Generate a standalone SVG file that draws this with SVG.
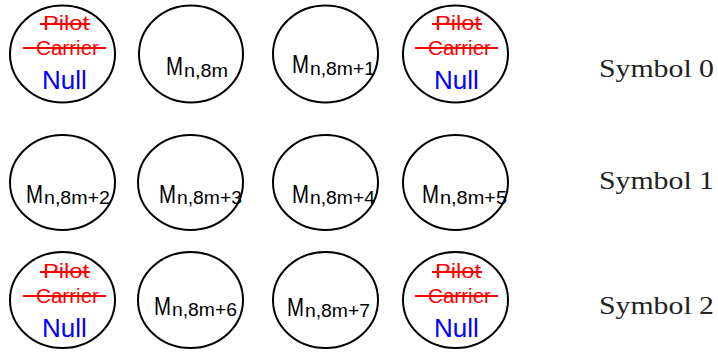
<svg xmlns="http://www.w3.org/2000/svg" width="718" height="352" viewBox="0 0 718 352">
<style>
.c{fill:#fff;stroke:#000;stroke-width:2}
.p{font-family:"Liberation Sans",Arial,sans-serif;fill:#f00;font-size:20px}
.s{stroke:#f00;stroke-width:2}
.n{font-family:"Liberation Sans",Arial,sans-serif;fill:#00f;font-size:26px}
.m{font-family:"Liberation Sans",Arial,sans-serif;fill:#000;font-size:26px}
.b{font-size:18px}
.y{font-family:"Liberation Serif","Times New Roman",serif;fill:#222;font-size:26px}
</style>
<defs>
<g id="null">
<text class="p" x="43" y="30" textLength="46" lengthAdjust="spacingAndGlyphs">Pilot</text>
<line class="s" x1="40" y1="24" x2="90" y2="24"/>
<text class="p" x="36" y="55" textLength="63" lengthAdjust="spacingAndGlyphs">Carrier</text>
<line class="s" x1="23" y1="48" x2="106" y2="48"/>
<text class="n" x="42" y="89">Null</text>
</g>
</defs>
<g id="r0c1"><ellipse class="c" cx="62.5" cy="54" rx="52.5" ry="48.5"/><use href="#null"/></g>
<g id="r0c2"><ellipse class="c" cx="191" cy="54" rx="52" ry="48.5"/><text class="m" x="166" y="75"><tspan textLength="17" lengthAdjust="spacingAndGlyphs">M</tspan><tspan class="b" dx="1" dy="2" textLength="44" lengthAdjust="spacingAndGlyphs">n,8m</tspan></text></g>
<g id="r0c3"><ellipse class="c" cx="325.5" cy="54" rx="52.5" ry="48.5"/><text class="m" x="292" y="73"><tspan textLength="17" lengthAdjust="spacingAndGlyphs">M</tspan><tspan class="b" dx="1" dy="2" textLength="65" lengthAdjust="spacingAndGlyphs">n,8m+1</tspan></text></g>
<g id="r0c4"><ellipse class="c" cx="455.5" cy="54" rx="52.5" ry="48.5"/><use href="#null" x="392"/></g>
<g id="r1c1"><ellipse class="c" cx="62.5" cy="182.5" rx="52.5" ry="47.5"/><text class="m" x="26" y="203"><tspan textLength="17" lengthAdjust="spacingAndGlyphs">M</tspan><tspan class="b" dx="1" dy="1" textLength="66" lengthAdjust="spacingAndGlyphs">n,8m+2</tspan></text></g>
<g id="r1c2"><ellipse class="c" cx="190.5" cy="182.5" rx="52.5" ry="47.5"/><text class="m" x="159" y="203"><tspan textLength="17" lengthAdjust="spacingAndGlyphs">M</tspan><tspan class="b" dx="1" dy="1" textLength="65" lengthAdjust="spacingAndGlyphs">n,8m+3</tspan></text></g>
<g id="r1c3"><ellipse class="c" cx="325.5" cy="182.5" rx="52.5" ry="47.5"/><text class="m" x="292" y="203"><tspan textLength="17" lengthAdjust="spacingAndGlyphs">M</tspan><tspan class="b" dx="1" dy="1" textLength="65" lengthAdjust="spacingAndGlyphs">n,8m+4</tspan></text></g>
<g id="r1c4"><ellipse class="c" cx="455.5" cy="182.5" rx="52.5" ry="47.5"/><text class="m" x="422" y="203"><tspan textLength="17" lengthAdjust="spacingAndGlyphs">M</tspan><tspan class="b" dx="1" dy="1" textLength="67" lengthAdjust="spacingAndGlyphs">n,8m+5</tspan></text></g>
<g id="r2c1"><ellipse class="c" cx="62.5" cy="300" rx="52.5" ry="48"/><use href="#null" y="248"/></g>
<g id="r2c2"><ellipse class="c" cx="190.5" cy="300" rx="52.5" ry="48"/><text class="m" x="154" y="315"><tspan textLength="17" lengthAdjust="spacingAndGlyphs">M</tspan><tspan class="b" dx="1" dy="1" textLength="65" lengthAdjust="spacingAndGlyphs">n,8m+6</tspan></text></g>
<g id="r2c3"><ellipse class="c" cx="325.5" cy="300" rx="52.5" ry="48"/><text class="m" x="287" y="316"><tspan textLength="17" lengthAdjust="spacingAndGlyphs">M</tspan><tspan class="b" dx="1" dy="1" textLength="65" lengthAdjust="spacingAndGlyphs">n,8m+7</tspan></text></g>
<g id="r2c4"><ellipse class="c" cx="455.5" cy="300" rx="52.5" ry="48"/><use href="#null" x="392" y="248"/></g>
<g id="connectors"></g>
<g id="labels">
<text class="y" x="599" y="77" textLength="115" lengthAdjust="spacingAndGlyphs">Symbol 0</text>
<text class="y" x="599" y="189" textLength="115" lengthAdjust="spacingAndGlyphs">Symbol 1</text>
<text class="y" x="599" y="314" textLength="115" lengthAdjust="spacingAndGlyphs">Symbol 2</text>
</g>
</svg>
